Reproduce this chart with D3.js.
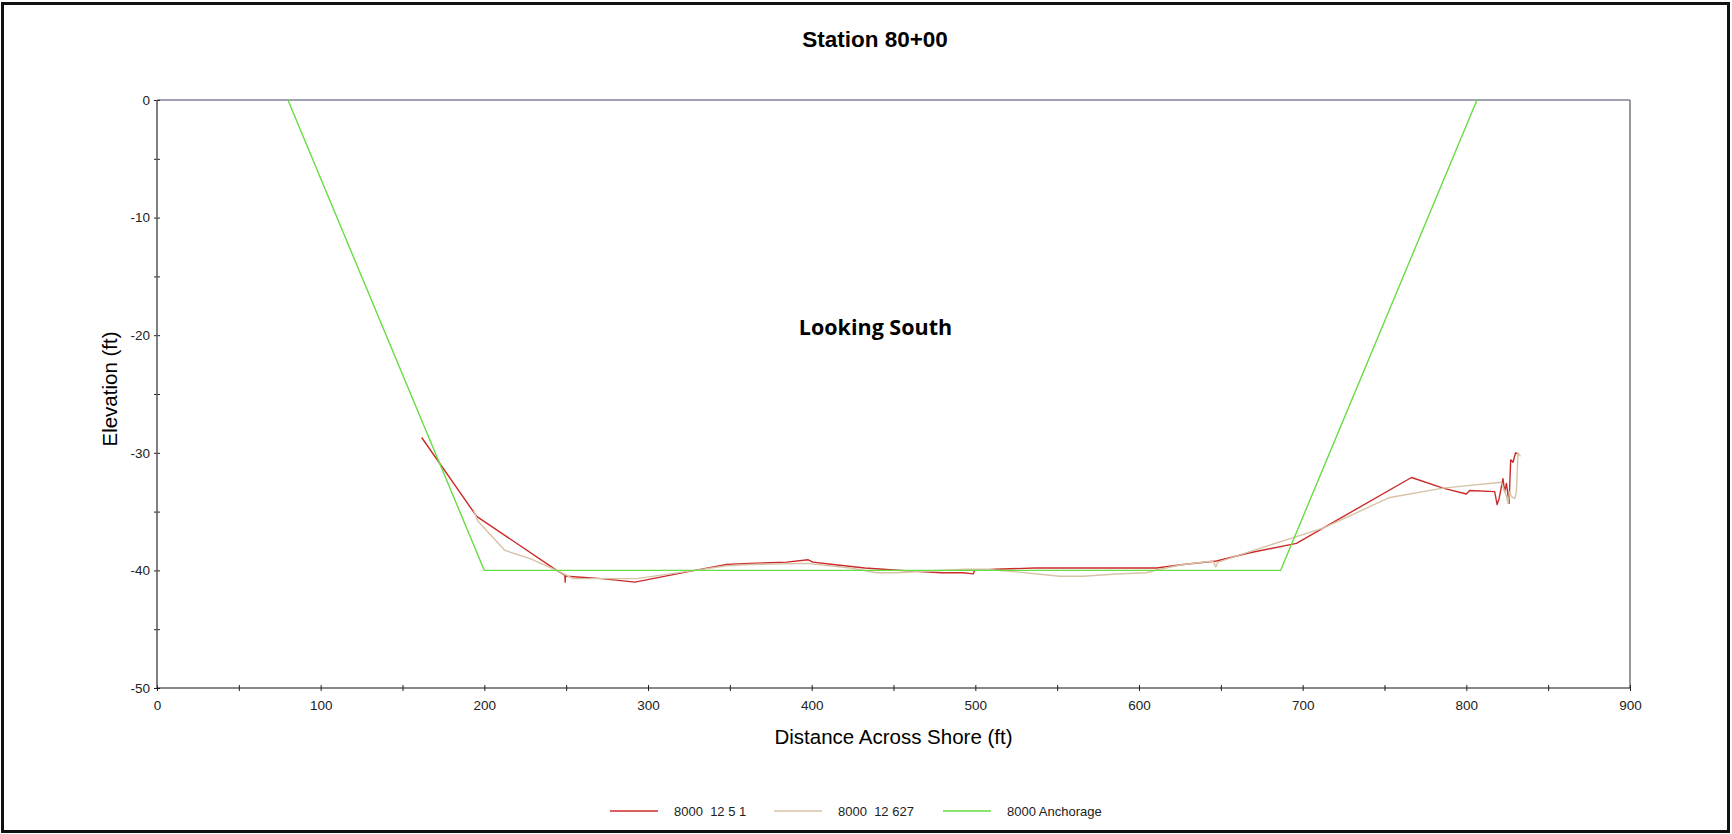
<!DOCTYPE html>
<html>
<head>
<meta charset="utf-8">
<script src="https://cdn.jsdelivr.net/npm/d3@7"></script>
<style>
  body { margin: 0; background: #fff; }
  svg { display: block; font-family: "Liberation Sans", Arial, sans-serif; }
</style>
</head>
<body>
<svg id="chart" width="1732" height="834"></svg>
<script>
// survey lines, [distance ft, elevation ft]
const survey1251 = [
  [161.7, -28.7], [195.3, -35.4], [244.2, -40.0], [249.2, -40.4], [249.4, -41.0], [249.6, -40.4],
  [250.3, -40.5], [271.6, -40.7], [292, -41.0], [328.6, -40.0], [348, -39.5], [362, -39.4],
  [384.7, -39.3], [397.9, -39.1], [400.8, -39.3], [413, -39.5], [432.5, -39.8], [443.7, -39.9],
  [466, -40.1], [479.3, -40.2], [492.5, -40.2], [498.6, -40.3], [499.7, -40.0], [512, -39.9],
  [536.3, -39.8], [610.7, -39.8], [627, -39.5], [647.4, -39.2], [667.7, -38.5], [696.2, -37.7],
  [766.5, -32.1], [785.8, -33.0], [800, -33.5], [802, -33.2], [817.3, -33.3], [818.8, -34.4],
  [820, -33.9], [822.4, -32.2], [823.4, -33.3], [824.5, -32.6], [826.1, -34.3], [827.1, -30.6],
  [828.5, -30.8], [830.1, -30.0], [831.6, -30.1]
]
const survey12627 = [
  [193.2, -34.8], [196, -35.8], [212.6, -38.3], [227.9, -39.0], [244.2, -40.0], [254.3, -40.7],
  [293, -40.7], [328.6, -40.0], [348, -39.6], [362, -39.5], [397, -39.4], [423.5, -39.8],
  [439.6, -40.2], [451.8, -40.2], [472, -40.05], [494.5, -39.9], [506.7, -39.9], [523, -40.1],
  [551.5, -40.5], [565.9, -40.5], [586.3, -40.3], [604.6, -40.2], [612.7, -39.9], [627, -39.5],
  [645.2, -39.2], [646.9, -39.7], [648.3, -39.3], [667.7, -38.4], [712.5, -36.4], [753.2, -33.8],
  [785.8, -33.0], [821.4, -32.5], [824.5, -33.7], [825.5, -34.3], [826.5, -33.3], [827.5, -33.7],
  [829.6, -33.9], [830.6, -33.3], [831.6, -30.0], [833.1, -30.3]
]
const anchorage = [[80, 0], [200, -40], [686.5, -40], [806.5, 0]]

const xLabelTicks = [0, 100, 200, 300, 400, 500, 600, 700, 800, 900]
const xMinorTicks = [50, 150, 250, 350, 450, 550, 650, 750, 850]
const yLabelTicks = [0, -10, -20, -30, -40, -50]
const yMinorTicks = [-5, -15, -25, -35, -45]

const seriesNames = ["8000  12 5 1", "8000  12 627", "8000 Anchorage"]
const seriesColors = ["#cc2a2a", "#d6c3a6", "#66dd44"]

const plotLeft = 157, plotRight = 1630, plotTop = 100, plotBottom = 688

const svg = d3.select("#chart")

// outer frame
svg.append("rect")
  .attr("x", 2.5).attr("y", 3.5)
  .attr("width", 1726).attr("height", 828)
  .attr("fill", "none").attr("stroke", "#111").attr("stroke-width", 3)

const xScale = d3.scaleLinear().domain([0, 900]).range([plotLeft, plotRight])
const yScale = d3.scaleLinear().domain([-50, 0]).range([plotBottom, plotTop])

svg.append("text")
  .attr("x", 875).attr("y", 47)
  .attr("text-anchor", "middle")
  .attr("font-size", 22.5).attr("font-weight", "bold")
  .text("Station 80+00")

// top and right frame of plot
svg.append("line")
  .attr("x1", plotLeft).attr("x2", plotRight).attr("y1", plotTop).attr("y2", plotTop)
  .attr("stroke", "#45456a").attr("stroke-width", 1.2)
svg.append("line")
  .attr("x1", plotRight).attr("x2", plotRight).attr("y1", plotTop).attr("y2", plotBottom)
  .attr("stroke", "#777").attr("stroke-width", 1.5)

const line = d3.line().x(d => xScale(d[0])).y(d => yScale(d[1]))

const allSeries = [survey1251, survey12627, anchorage]
allSeries.forEach((s, i) => {
  svg.append("path")
    .datum(s)
    .attr("d", line)
    .attr("fill", "none")
    .attr("stroke", seriesColors[i])
    .attr("stroke-width", 1.4)
    .attr("stroke-linejoin", "round")
})

// axes
const yAxis = svg.append("g")
  .attr("transform", `translate(${plotLeft},0)`)
  .call(d3.axisLeft(yScale).tickValues(yLabelTicks).tickSize(3).tickPadding(4).tickFormat(d => String(d)))
const yMinor = svg.append("g")
  .attr("transform", `translate(${plotLeft},0)`)
  .call(d3.axisLeft(yScale).tickValues(yMinorTicks).tickSize(3).tickFormat(""))

const xAxis = svg.append("g")
  .attr("transform", `translate(0,${plotBottom})`)
  .call(d3.axisBottom(xScale).tickValues(xLabelTicks).tickSize(3).tickPadding(9))
const xMinor = svg.append("g")
  .attr("transform", `translate(0,${plotBottom})`)
  .call(d3.axisBottom(xScale).tickValues(xMinorTicks).tickSize(3).tickFormat(""))

;[yAxis, yMinor].forEach(g => {
  g.select(".domain").remove()
  g.selectAll(".tick line").attr("x1", 3).attr("x2", -3).attr("stroke", "#222")
})
;[xAxis, xMinor].forEach(g => {
  g.select(".domain").remove()
  g.selectAll(".tick line").attr("y1", -3).attr("y2", 3).attr("stroke", "#222")
})
svg.selectAll(".tick text").attr("font-size", 13.5).attr("fill", "#222")
  .attr("font-family", "'Liberation Sans', Arial, sans-serif")

svg.append("line")
  .attr("x1", plotLeft).attr("x2", plotLeft).attr("y1", plotTop).attr("y2", plotBottom)
  .attr("stroke", "#555").attr("stroke-width", 1.5)
svg.append("line")
  .attr("x1", plotLeft).attr("x2", plotRight).attr("y1", plotBottom).attr("y2", plotBottom)
  .attr("stroke", "#111").attr("stroke-width", 1.2)

svg.append("text")
  .attr("x", (plotLeft + plotRight) / 2).attr("y", 744)
  .attr("text-anchor", "middle").attr("font-size", 20.5)
  .text("Distance Across Shore (ft)")

svg.append("text")
  .attr("transform", `translate(117,${(plotTop + plotBottom) / 2 - 5}) rotate(-90)`)
  .attr("text-anchor", "middle").attr("font-size", 20.5)
  .text("Elevation (ft)")

svg.append("text")
  .attr("x", xScale(439)).attr("y", yScale(-20))
  .attr("text-anchor", "middle")
  .attr("font-family", "'Open Sans', 'Noto Sans', sans-serif")
  .attr("font-size", 21.5).attr("font-weight", "bold")
  .text("Looking South")

// legend
const legendX = [610, 774, 943]
const legendY = 811
seriesNames.forEach((name, i) => {
  svg.append("line")
    .attr("x1", legendX[i]).attr("x2", legendX[i] + 48)
    .attr("y1", legendY).attr("y2", legendY)
    .attr("stroke", seriesColors[i]).attr("stroke-width", 1.5)
  svg.append("text")
    .attr("x", legendX[i] + 64).attr("y", legendY + 5)
    .attr("font-size", 13).attr("fill", "#222")
    .style("white-space", "pre")
    .text(name)
})
</script>
</body>
</html>
